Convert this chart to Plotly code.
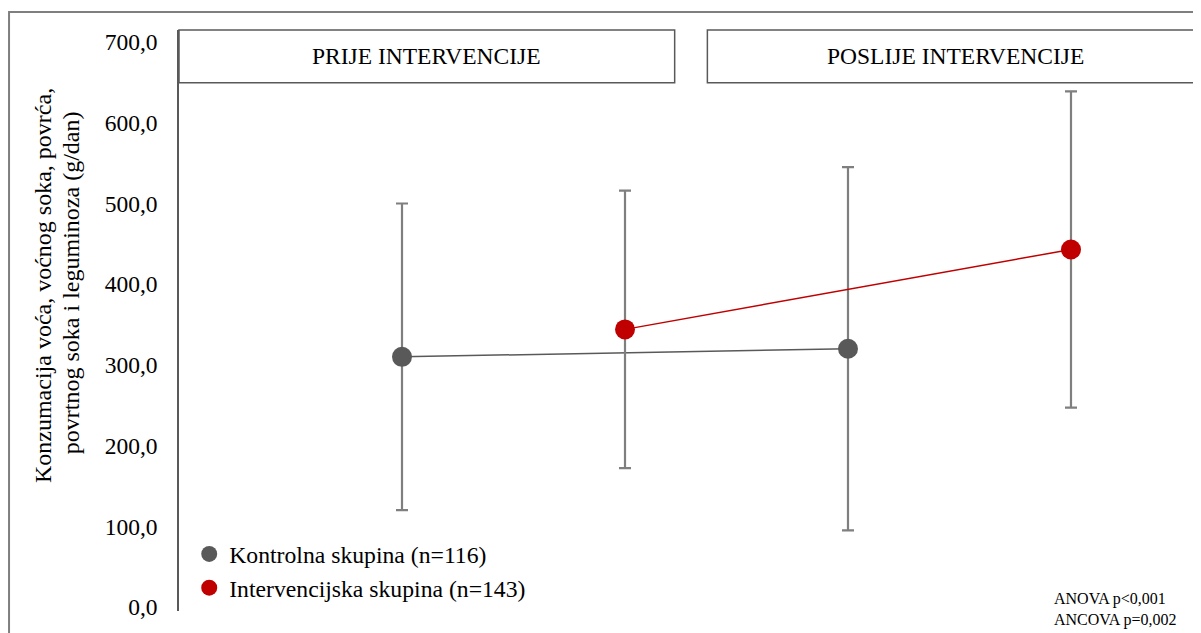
import plotly.graph_objects as go

# values (g/dan)
groups = ["Kontrolna skupina (n=116)", "Intervencijska skupina (n=143)"]
x_pos = [[1, 3], [2, 4]]          # 1,2 = prije, 3,4 = poslije
means = [[310, 320], [344, 443]]
sds = [[190, 225], [172, 196]]
colors = ["#595959", "#C00000"]

y_ticks = [0, 100, 200, 300, 400, 500, 600, 700]
y_tick_text = ["0,0", "100,0", "200,0", "300,0", "400,0", "500,0", "600,0", "700,0"]
periods = ["PRIJE INTERVENCIJE", "POSLIJE INTERVENCIJE"]
y_title = ["Konzumacija voća, voćnog soka, povrća,", "povrtnog soka i leguminoza (g/dan)"]

serif = "Liberation Serif, Times New Roman, serif"

fig = go.Figure()

for g in range(len(groups)):
    fig.add_trace(go.Scatter(
        x=x_pos[g], y=means[g], mode="lines+markers",
        line=dict(color=colors[g], width=1.5),
        marker=dict(color=colors[g], size=20),
        error_y=dict(type="data", array=sds[g], color="#7f7f7f", thickness=2.2, width=6),
        showlegend=False, hoverinfo="skip"))
    # legend-only marker entry
    fig.add_trace(go.Scatter(
        x=[None], y=[None], mode="markers", name=groups[g],
        marker=dict(color=colors[g], size=16)))

# header boxes
box_x = [(0.0, 0.485), (0.517, 1.003)]
for (x0, x1), label in zip(box_x, periods):
    fig.add_shape(type="rect", xref="paper", yref="paper", x0=x0, x1=x1, y0=0.909, y1=1.0,
                  line=dict(color="#595959", width=1.5), fillcolor="white", layer="above")
    fig.add_annotation(xref="paper", yref="paper", x=(x0 + x1) / 2, y=0.955, text=label,
                       showarrow=False, font=dict(family=serif, size=23.5, color="#000000"),
                       xanchor="center", yanchor="middle")

# outer frame
fig.add_shape(type="rect", xref="paper", yref="paper", x0=-0.1663, x1=1.05, y0=-0.2, y1=1.031,
              line=dict(color="#7f7f7f", width=2), layer="below")

# y axis title, two rotated lines
for txt, xp, yp in zip(y_title, [-0.1331, -0.1057], [0.561, 0.566]):
    fig.add_annotation(xref="paper", yref="paper", x=xp, y=yp, text=txt, textangle=-90,
                       showarrow=False, xanchor="center", yanchor="middle",
                       font=dict(family=serif, size=24, color="#000000"))

fig.add_annotation(xref="paper", yref="paper", x=0.854, y=0.0034, text="ANOVA p<0,001<br>ANCOVA p=0,002",
                   showarrow=False, align="left", xanchor="left", yanchor="middle",
                   font=dict(family=serif, size=16, color="#000000"))

fig.update_layout(
    width=1193, height=625,
    margin=dict(l=171, r=0, t=22, b=22),
    paper_bgcolor="white", plot_bgcolor="white",
    font=dict(family=serif, color="#000000"),
    xaxis=dict(range=[0, 4.583], showline=False, showgrid=False, zeroline=False,
               showticklabels=False, fixedrange=True),
    yaxis=dict(range=[-5, 715], tickvals=y_ticks, ticktext=y_tick_text,
               showline=True, linecolor="#595959", linewidth=1.5, showgrid=False,
               zeroline=False, ticks="", ticklabelstandoff=15,
               tickfont=dict(family=serif, size=23.5, color="#000000")),
    legend=dict(x=0.010, y=0.136, xanchor="left", yanchor="top",
                font=dict(family=serif, size=23.7, color="#000000"),
                bgcolor="rgba(0,0,0,0)", itemsizing="trace", tracegroupgap=0),
)

fig.write_html("out.html")
